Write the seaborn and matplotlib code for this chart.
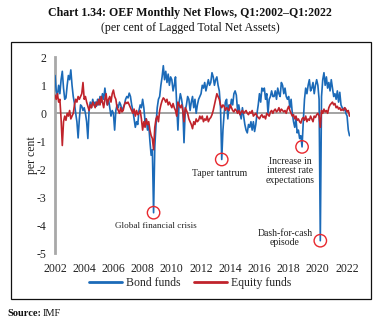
import numpy as np
import pandas as pd
import matplotlib
matplotlib.use("Agg")
import matplotlib.pyplot as plt
import seaborn as sns
from matplotlib.patches import Rectangle
from matplotlib.lines import Line2D

# ---------------- data (monthly, Jan 2002 - Mar 2022) ----------------
bond_funds = [
    1.35, 0.8, 0.65, 1.0, 0.7, 1.2, 1.5, 0.9, 0.5, 0.55, 1.0, 1.35,          # 2002
    1.2, 1.55, 1.0, 0.6, 0.35, 0.0, -0.3, -0.88, -0.2, 0.3, 0.25, 0.1,       # 2003
    0.2, 0.0, -0.3, -0.9, 0.1, 0.4, 0.2, 0.5, 0.3, 0.4, 0.25, 0.5,           # 2004
    0.3, 0.6, 0.4, 0.7, 0.5, 0.9, 0.5, 0.3, 0.5, 0.2, -0.1, 0.1,             # 2005
    0.0, -0.6, 0.1, 0.3, 0.2, 0.4, 0.3, 0.1, 0.2, 0.3, 0.5, 0.6,             # 2006
    0.55, 0.72, 0.6, 0.3, 0.1, -0.2, -0.5, -0.3, -0.4, 0.1, 0.3, 0.2,        # 2007
    0.5, 0.2, -0.3, -0.2, -0.6, -0.4, -1.0, -1.5, -1.3, -3.55, -1.2, -0.4,   # 2008
    0.2, 0.5, 0.6, 1.0, 1.3, 1.7, 1.2, 1.5, 1.1, 1.4, 1.0, 1.3,              # 2009
    1.2, 0.8, 1.0, 1.3, 0.3, -0.6, 0.4, 0.7, 0.5, 0.2, -1.05, 0.1,           # 2010
    0.3, 0.6, 0.5, 0.1, 0.4, 0.6, 0.2, 0.5, 0.0, 0.3, 0.5, 0.6,              # 2011
    0.7, 1.0, 0.9, 1.1, 0.8, 1.0, 1.2, 1.0, 1.1, 1.45, 1.3, 1.0,             # 2012
    1.2, 1.3, 1.0, 0.8, 0.2, -1.65, -0.6, 0.0, 0.4, 0.5, -0.2, 0.3,          # 2013
    0.2, 0.5, 0.3, 0.7, 0.8, 0.65, 0.1, 0.3, 0.0, -0.2, 0.2, -0.1,           # 2014
    -0.4, -0.6, -0.7, -0.4, -0.5, -0.3, -0.6, -0.3, -0.65, -0.4, 0.0, 0.3,   # 2015
    0.7, 0.4, 0.9, 0.8, 0.9, 0.5, 0.7, 0.0, 0.5, 0.6, 0.8, 0.6,              # 2016
    0.6, 0.8, 0.5, 0.9, 0.7, 0.6, 1.1, 1.0, 0.7, 0.9, 0.6, 0.5,              # 2017
    0.6, 0.2, 0.5, 0.0, -0.3, -0.5, -0.2, -0.7, -0.6, -0.9, -0.8, -1.2,      # 2018
    -0.3, 0.5, 0.9, 0.7, 1.0, 1.2, 0.8, 0.9, 1.1, 0.7, 1.0, 1.2,             # 2019
    1.0, 0.5, -4.55, 0.6, 1.2, 1.45, 1.0, 1.3, 0.9, 1.1, 0.8, 1.2,           # 2020
    0.9, 0.6, 0.7, 0.5, 0.8, 0.4, 0.75, 0.3, 0.2, 0.1, 0.2, 0.0,             # 2021
    -0.1, -0.6, -0.8,                                                        # 2022
]
equity_funds = [
    0.65, 0.5, 0.7, 0.4, 0.5, -0.2, -1.15, -0.3, -0.1, -0.25, 0.0, -0.1,     # 2002
    0.1, -0.2, -0.1, 0.0, 0.3, 0.5, 0.4, 0.6, 0.5, 0.6, 0.7, 1.1,            # 2003
    0.5, 0.6, 0.4, 0.25, 0.1, 0.3, 0.2, 0.4, 0.3, 0.2, 0.4, 0.3,             # 2004
    0.5, 0.3, 0.6, 0.4, 0.2, 0.5, 0.7, 0.3, 0.5, 0.6, 0.4, 0.7,              # 2005
    0.83, 0.6, 0.5, 0.2, 0.1, 0.0, 0.2, 0.05, 0.1, 0.3, 0.4, 0.35,           # 2006
    0.4, 0.3, 0.2, 0.1, 0.0, 0.15, -0.1, 0.1, -0.05, 0.0, 0.1, -0.2,         # 2007
    -0.6, -0.3, -0.5, -0.2, -0.4, -0.3, -0.6, -0.8, -0.9, -1.3, -0.5, -0.2,  # 2008
    -0.1, -0.3, 0.1, 0.3, 0.45, 0.55, 0.5, 0.4, 0.5, 0.3, 0.4, 0.3,          # 2009
    0.2, 0.35, 0.2, 0.1, -0.1, 0.4, 0.3, 0.2, 0.3, 0.1, -0.3, 0.2,           # 2010
    0.1, 0.0, -0.2, -0.3, -0.4, -0.55, -0.3, -0.4, -0.2, -0.3, -0.25, -0.1,  # 2011
    -0.2, -0.1, -0.3, -0.2, -0.25, -0.1, -0.3, -0.2, -0.15, -0.05, 0.1, 0.3, # 2012
    0.5, 0.7, 0.6, 0.5, 0.3, 0.2, 0.3, 0.25, 0.1, 0.2, 0.15, 0.1,            # 2013
    0.3, 0.2, 0.1, 0.05, 0.15, 0.1, 0.0, 0.1, -0.05, 0.05, 0.1, 0.0,         # 2014
    0.05, 0.1, 0.0, -0.05, 0.05, 0.0, 0.1, -0.1, -0.05, 0.0, -0.1, -0.15,    # 2015
    -0.2, -0.1, -0.05, -0.15, -0.1, -0.2, 0.0, -0.05, -0.1, 0.05, 0.1, 0.0,  # 2016
    0.1, 0.15, 0.05, 0.1, 0.2, 0.05, 0.15, 0.1, 0.05, 0.1, 0.0, 0.15,        # 2017
    0.25, 0.1, 0.0, -0.1, -0.05, -0.2, -0.1, -0.25, -0.2, -0.3, -0.35, -0.2, # 2018
    -0.15, -0.25, -0.1, -0.3, -0.2, -0.25, -0.1, -0.2, -0.3, -0.1, -0.15, -0.05, # 2019
    0.0, -0.1, -0.5, 0.1, 0.0, 0.15, 0.05, 0.1, 0.0, 0.2, 0.3, 0.35,         # 2020
    0.4, 0.3, 0.35, 0.2, 0.25, 0.15, 0.2, 0.1, 0.15, 0.1, 0.2, 0.15,         # 2021
    0.05, 0.1, -0.1,                                                         # 2022
]
series_names = ["Bond funds", "Equity funds"]
x_ticks = [2002, 2004, 2006, 2008, 2010, 2012, 2014, 2016, 2018, 2020, 2022]
y_ticks = [2, 1, 0, -1, -2, -3, -4, -5]
y_tick_labels = ["2", "1", "0", "-1", "-2", "-3", "-4", "-5"]
# annotated episodes: month index into the series, label
event_index = [81, 137, 203, 218]
event_labels = ["Global financial crisis", "Taper tantrum",
                "Increase in\ninterest rate\nexpectations", "Dash-for-cash\nepisode"]

title = "Chart 1.34: OEF Monthly Net Flows, Q1:2002\u2013Q1:2022"
subtitle = "(per cent of Lagged Total Net Assets)"

# ---------------- build frame ----------------
n = len(bond_funds)
time = 2002 + np.arange(n) / 12.0
df = pd.DataFrame({
    "time": np.concatenate([time, time]),
    "value": np.concatenate([bond_funds, equity_funds]),
    "series": [series_names[0]] * n + [series_names[1]] * n,
})

sns.set_theme(style="white")
serif = ["Liberation Serif", "DejaVu Serif"]
plt.rcParams["font.family"] = serif

W, H = 380, 323
fig = plt.figure(figsize=(W / 100, H / 100), dpi=100)
fig.patch.set_facecolor("white")

left, right, top, bottom = 55, 350, 57.3, 253.3
ax = fig.add_axes([left / W, 1 - bottom / H, (right - left) / W, (bottom - top) / H])
ax.set_facecolor("none")

blue = "#1b6ab8"
red = "#c0232b"
ax.axhline(0, color="#8a8a8a", lw=1.1, zorder=1)
sns.lineplot(data=df, x="time", y="value", hue="series",
             palette={series_names[0]: blue, series_names[1]: red},
             lw=1.2, ax=ax, legend=False, zorder=3)

ax.set_xlim(2002, 2022.2)
ax.set_ylim(-5, 2)
ax.set_xticks(x_ticks)
ax.set_xticklabels([str(t) for t in x_ticks], fontsize=8.5)
ax.set_yticks(y_ticks)
ax.set_yticklabels(y_tick_labels, fontsize=8.5)
ax.tick_params(axis="x", length=0, pad=7, colors="#222222")
ax.tick_params(axis="y", length=3, width=0.8, color="#999999", pad=3, colors="#222222")
for s in ["top", "right", "bottom"]:
    ax.spines[s].set_visible(False)
ax.spines["left"].set_color("#a8a8a8")
ax.spines["left"].set_linewidth(2.0)
ax.set_xlabel("")
ax.set_ylabel("per cent", fontsize=8.5, labelpad=-1, color="#222222")

# circles at the episodes
ex = [time[i] for i in event_index]
ey = [bond_funds[i] for i in event_index]
ax.scatter(ex, ey, s=80, facecolors="none", edgecolors="#e8282e", linewidths=1.0, zorder=5)

tkw = dict(fontsize=7, ha="center", va="center", color="#222222", linespacing=1.1)
ax.text(2008.9, -4.02, event_labels[0], fontsize=6.6, ha="center", va="center", color="#222222")
ax.text(2013.3, -2.14, event_labels[1], **tkw)
ax.text(2018.1, -2.05, event_labels[2], **tkw)
ax.text(2017.75, -4.45, event_labels[3], **tkw)

# legend
handles = [Line2D([], [], color=blue, lw=2), Line2D([], [], color=red, lw=2)]
fig.legend(handles, series_names, loc="center", bbox_to_anchor=(190 / W, 1 - 283 / H),
           ncol=2, frameon=False, fontsize=8.5, handlelength=2.8, handletextpad=0.3,
           columnspacing=1.2, borderpad=0)

# titles
fig.text(190 / W, 1 - 13 / H, title, ha="center", va="center", fontsize=8.6,
         fontweight="bold", color="#111111")
fig.text(190 / W, 1 - 27.5 / H, subtitle, ha="center", va="center", fontsize=8.6,
         color="#111111")

# outer frame
fig.patches.append(Rectangle((11 / W, 1 - 299 / H), 360 / W, 257 / H, transform=fig.transFigure,
                             fill=False, edgecolor="#111111", lw=0.9))

# source
fig.text(7 / W, 1 - 313 / H, "Source:", ha="left", va="center", fontsize=7.5,
         fontweight="bold", color="#111111")
fig.text(43 / W, 1 - 313 / H, "IMF", ha="left", va="center", fontsize=7.5, color="#111111")

fig.savefig("out.png", dpi=100)
